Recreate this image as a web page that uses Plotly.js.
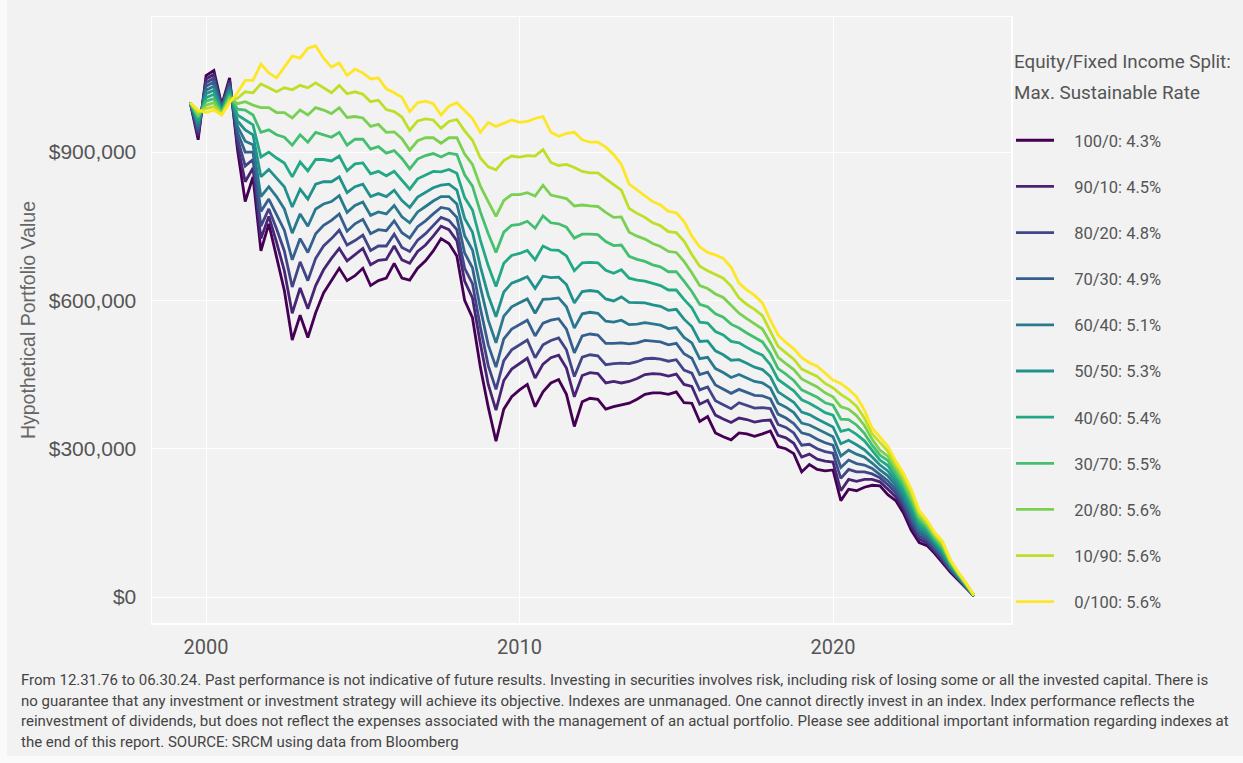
<!DOCTYPE html>
<html>
<head>
<meta charset="utf-8">
<script src="https://cdn.plot.ly/plotly-3.0.1.min.js"></script>
<style>
  html, body { margin: 0; padding: 0; background: #fafafa; }
  #chart { position: absolute; left: 7px; top: 0; width: 1236px; height: 756px; }
</style>
</head>
<body>
<div id="chart"></div>
<script>
// Quarterly observations, start mid-1999, 101 quarters (values in $ thousands)
const START_YEAR = 1999;
const START_MONTH = 7;        // July 1999 (mid-year)
const N_QUARTERS = 101;

const SERIES_NAMES = [
  '100/0: 4.3%', '90/10: 4.5%', '80/20: 4.8%', '70/30: 4.9%', '60/40: 5.1%', '50/50: 5.3%',
  '40/60: 5.4%', '30/70: 5.5%', '20/80: 5.6%', '10/90: 5.6%', '0/100: 5.6%'
];

const COLORS = ['#440154', '#482475', '#414487', '#355f8d', '#2a788e', '#21918c',
                '#22a884', '#44bf70', '#7ad151', '#bddf26', '#fde725'];

const S100_0 = [1000, 925, 1055, 1065, 995, 1050, 905, 800, 850, 700, 755, 690, 620, 520, 570, 525, 575, 615, 640, 665, 640,
  650, 665, 630, 640, 645, 675, 645, 641, 665, 680, 700, 725, 715, 690, 600, 565, 465, 384, 315, 380,
  405, 419, 430, 385, 415, 433, 440, 410, 345, 395, 402, 400, 380, 385, 388, 392, 400, 410, 413, 413,
  410, 415, 393, 392, 355, 365, 332, 324, 318, 332, 330, 325, 330, 336, 304, 300, 290, 253, 268, 258,
  255, 257, 195, 218, 215, 222, 226, 225, 207, 195, 170, 135, 110, 104, 88, 68, 50, 34, 18, 2];

const S90_10 = [1000, 932, 1048, 1057, 993, 1045, 915,
  840, 868, 725, 770, 718, 660, 574, 625, 583, 630, 662, 685, 705, 680,
  692, 705, 672, 681, 683, 710, 682, 675, 699, 712, 730, 750, 743, 721, 639, 605, 513, 430, 378, 438,
  461, 473, 483, 443, 471, 484, 489, 463, 405, 448, 454, 452, 433, 436, 433, 436, 442, 450, 452, 451,
  447, 451, 430, 426, 390, 398, 368, 360, 353, 362, 359, 354, 357, 358, 327, 322, 311, 283, 289, 279,
  275, 273, 215, 238, 234, 238, 238, 233, 217, 203, 178, 143, 117, 109, 92, 72, 53, 36, 19, 2];

const S80_20 = [1000, 940, 1040, 1050, 990, 1040, 928,
  872, 885, 750, 785, 745, 700, 627, 678, 640, 685, 710, 725, 742, 712,
  721, 732, 701, 710, 710, 734, 707, 699, 722, 735, 751, 768, 762, 743, 665, 634, 546, 468, 420, 478,
  500, 511, 520, 484, 510, 519, 524, 500, 446, 485, 490, 488, 470, 472, 473, 472, 476, 482, 483, 481,
  477, 480, 459, 453, 419, 425, 397, 389, 381, 393, 388, 382, 383, 381, 349, 343, 332, 307, 309, 300,
  294, 291, 240, 258, 253, 253, 249, 241, 227, 211, 186, 152, 123, 114, 96, 77, 55, 37, 20, 2];

const S70_30 = [1000, 946, 1033, 1042, 988, 1035, 940,
  900, 900, 780, 805, 775, 742, 682, 725, 697, 735, 752, 762, 775, 740,
  755, 764, 735, 743, 741, 761, 737, 726, 749, 761, 775, 788, 785, 768, 696, 666, 584, 510, 465, 522,
  542, 552, 560, 528, 554, 560, 563, 542, 494, 528, 532, 530, 513, 513, 514, 512, 514, 519, 517, 516,
  510, 513, 492, 483, 450, 455, 429, 421, 412, 420, 414, 408, 407, 401, 370, 362, 351, 332, 328, 319,
  312, 307, 262, 277, 270, 267, 260, 247, 235, 218, 193, 159, 129, 119, 100, 81, 57, 39, 21, 2];

const S60_40 = [1000, 952, 1025, 1033, 986, 1030, 952,
  922, 915, 810, 830, 810, 785, 736, 775, 750, 785, 795, 800, 812, 778,
  792, 799, 772, 779, 775, 792, 769, 757, 779, 790, 801, 810, 810, 795, 731, 702, 627, 560, 514, 568,
  587, 595, 603, 574, 602, 603, 605, 587, 544, 573, 576, 574, 558, 556, 560, 551, 552, 555, 552, 550,
  543, 545, 525, 514, 482, 485, 462, 454, 444, 450, 443, 436, 433, 423, 392, 384, 373, 352, 348, 340,
  332, 324, 285, 297, 289, 283, 271, 257, 245, 226, 201, 167, 135, 124, 104, 85, 60, 40, 22, 2];

const S50_50 = [1000, 958, 1018, 1025, 984, 1025, 963,
  945, 935, 850, 865, 848, 830, 789, 825, 805, 835, 840, 840, 850, 818,
  830, 835, 810, 816, 810, 823, 802, 788, 809, 819, 828, 833, 835, 823, 766, 738, 669, 610, 567, 617,
  635, 641, 648, 624, 649, 646, 647, 632, 595, 618, 620, 618, 603, 599, 607, 596, 595, 595, 591, 588,
  580, 582, 562, 547, 517, 518, 498, 490, 479, 480, 473, 465, 460, 446, 415, 405, 394, 374, 369, 360,
  352, 344, 310, 317, 308, 298, 283, 267, 255, 234, 209, 176, 142, 129, 109, 90, 62, 42, 23, 2];

const S40_60 = [1000, 964, 1010, 1017, 982, 1020, 975,
  965, 955, 890, 900, 888, 878, 850, 880, 862, 885, 885, 882, 892, 862,
  876, 878, 856, 861, 852, 861, 843, 825, 846, 854, 861, 860, 865, 857, 808, 783, 722, 670, 628, 675,
  691, 695, 701, 682, 710, 702, 701, 690, 660, 676, 677, 676, 661, 655, 662, 645, 641, 639, 634, 630,
  621, 621, 602, 585, 556, 554, 537, 530, 517, 514, 505, 496, 489, 470, 440, 429, 417, 399, 392, 383,
  373, 368, 335, 339, 329, 316, 296, 277, 266, 243, 218, 185, 149, 135, 113, 94, 65, 44, 24, 3];

const S30_70 = [1000, 970, 1003, 1008, 980, 1015, 987,
  985, 975, 940, 945, 935, 930, 914, 935, 920, 940, 935, 930, 940, 914,
  926, 926, 906, 911, 898, 903, 887, 866, 886, 893, 897, 890, 898, 895, 854, 831, 779, 735, 697, 738,
  752, 754, 760, 746, 771, 757, 755, 748, 726, 734, 734, 733, 719, 711, 712, 689, 683, 679, 672, 668,
  658, 658, 639, 618, 592, 587, 573, 566, 552, 544, 534, 525, 516, 493, 462, 451, 438, 419, 412, 404,
  393, 388, 360, 359, 348, 331, 307, 287, 276, 251, 226, 193, 156, 140, 117, 99, 68, 45, 25, 3];

const S20_80 = [1000, 975, 995, 1000, 978, 1010, 998,
  1002, 995, 990, 990, 980, 980, 969, 985, 975, 990, 985, 978, 990, 970,
  972, 969, 952, 956, 940, 941, 927, 904, 923, 929, 929, 918, 929, 929, 896, 875, 831, 800, 770, 802,
  814, 814, 818, 811, 833, 813, 809, 806, 791, 793, 791, 790, 778, 768, 769, 738, 730, 724, 715, 709,
  699, 697, 679, 656, 630, 624, 613, 606, 590, 574, 563, 553, 542, 515, 485, 472, 460, 441, 433, 425,
  413, 405, 385, 380, 367, 347, 319, 297, 285, 259, 234, 201, 162, 145, 122, 103, 70, 47, 26, 3];

const S10_90 = [1000, 980, 988, 992, 976, 1005, 1009,
  1022, 1020, 1038, 1030, 1022, 1030, 1026, 1035, 1030, 1040, 1030, 1020, 1035, 1018,
  1022, 1017, 1002, 1005, 986, 982, 971, 944, 963, 967, 965, 948, 962, 966, 943, 924, 888, 870, 864, 883,
  892, 890, 893, 892, 905, 879, 873, 875, 869, 861, 858, 858, 846, 834, 823, 786, 776, 768, 757, 751,
  739, 737, 720, 693, 669, 660, 652, 645, 629, 605, 592, 582, 569, 538, 507, 494, 481, 461, 453, 446,
  432, 423, 410, 400, 386, 362, 330, 312, 295, 267, 242, 210, 169, 150, 126, 108, 73, 48, 27, 3];

const S0_100 = [1000, 985, 980, 985, 975, 1000, 1020, 1045, 1045, 1078, 1060, 1050, 1072, 1094, 1090, 1110, 1115, 1090, 1072, 1080, 1055,
  1068, 1060, 1048, 1050, 1028, 1020, 1011, 982, 1000, 1003, 998, 975, 993, 1000, 985, 968, 940, 960, 952, 958,
  965, 960, 962, 968, 972, 940, 932, 938, 940, 925, 920, 920, 910, 895, 875, 835, 823, 812, 800, 793,
  780, 777, 760, 730, 708, 697, 692, 685, 667, 635, 621, 610, 595, 560, 530, 515, 502, 484, 474, 467,
  452, 439, 432, 420, 405, 378, 342, 324, 305, 275, 250, 218, 175, 155, 130, 112, 75, 50, 28, 3];

const SERIES = [S100_0, S90_10, S80_20, S70_30, S60_40, S50_50, S40_60, S30_70, S20_80, S10_90, S0_100];

const X_TICK_VALS = ['2000-01-01', '2010-01-01', '2020-01-01'];
const X_TICK_TEXT = ['2000', '2010', '2020'];
const Y_TICK_VALS = [0, 300000, 600000, 900000];
const Y_TICK_TEXT = ['$0', '$300,000', '$600,000', '$900,000'];

const LEGEND_TITLE = ['Equity/Fixed Income Split:', 'Max. Sustainable Rate'];
const FOOTNOTE_LINES = [
  'From 12.31.76 to 06.30.24. Past performance is not indicative of future results. Investing in securities involves risk, including risk of losing some or all the invested capital. There is',
  'no guarantee that any investment or investment strategy will achieve its objective. Indexes are unmanaged. One cannot directly invest in an index. Index performance reflects the',
  'reinvestment of dividends, but does not reflect the expenses associated with the management of an actual portfolio. Please see additional important information regarding indexes at',
  'the end of this report. SOURCE: SRCM using data from Bloomberg'
];

// quarter dates
const DATES = [];
for (let i = 0; i < N_QUARTERS; i++) {
  const m = START_YEAR * 12 + (START_MONTH - 1) + 3 * i;
  const y = Math.floor(m / 12), mo = (m % 12) + 1;
  DATES.push(y + '-' + String(mo).padStart(2, '0') + '-01');
}

const traces = SERIES.map((s, k) => ({
  type: 'scatter', mode: 'lines',
  x: DATES, y: s.map(v => v * 1000),
  name: '\u2002\u2009\u2009' + SERIES_NAMES[k], legendgroup: 'g' + k,
  line: { color: COLORS[k], width: 2.8 },
  hoverinfo: 'x+y+name'
}));

const plotW = 1236 - 145 - 232, plotH = 756 - 17 - 133;
const px = (pageX) => (pageX - 7 - 145) / plotW;
const py = (pageY) => 1 - (pageY - 17) / plotH;

const annotations = [];
LEGEND_TITLE.forEach((t, i) => annotations.push({
  text: t, xref: 'paper', yref: 'paper', x: px(1012), y: py([62, 93][i]),
  xanchor: 'left', yanchor: 'middle', showarrow: false, align: 'left',
  font: { family: 'Roboto, sans-serif', size: 18.8, color: '#555555' }
}));
FOOTNOTE_LINES.forEach((t, i) => annotations.push({
  text: t, xref: 'paper', yref: 'paper', x: px(19), y: py([680, 700.5, 721, 741.5][i]),
  xanchor: 'left', yanchor: 'middle', showarrow: false, align: 'left',
  font: { family: 'Roboto, sans-serif', size: 15.0, color: '#444444' }
}));

const layout = {
  width: 1236, height: 756,
  paper_bgcolor: '#f2f2f2', plot_bgcolor: '#f2f2f2',
  margin: { l: 145, r: 232, t: 17, b: 133, pad: 0 },
  showlegend: true,
  legend: {
    x: 1.0, xanchor: 'left', y: py(123), yanchor: 'top',
    bgcolor: 'rgba(0,0,0,0)', borderwidth: 0,
    font: { family: 'Roboto, sans-serif', size: 16.5, color: '#555555' },
    tracegroupgap: 21.7, itemwidth: 38, traceorder: 'grouped'
  },
  xaxis: {
    type: 'date', range: ['1998-04-11', '2025-09-05'],
    tickmode: 'array', tickvals: X_TICK_VALS, ticktext: X_TICK_TEXT,
    showgrid: true, gridcolor: '#ffffff', gridwidth: 1,
    showline: true, mirror: true, linecolor: '#ffffff', linewidth: 1.5,
    zeroline: false, ticks: 'outside', ticklen: 5, tickcolor: 'rgba(0,0,0,0)',
    tickfont: { family: 'Roboto, sans-serif', size: 20, color: '#555555' }
  },
  yaxis: {
    range: [-52600, 1173300],
    tickmode: 'array', tickvals: Y_TICK_VALS, ticktext: Y_TICK_TEXT,
    showgrid: true, gridcolor: '#ffffff', gridwidth: 1,
    showline: true, mirror: true, linecolor: '#ffffff', linewidth: 1.5,
    zeroline: false, ticks: '', ticklabelstandoff: 10,
    tickfont: { family: '"Liberation Sans", Arial, sans-serif', size: 21, color: '#555555' },
    title: { text: 'Hypothetical Portfolio Value', standoff: 8,
      font: { family: '"Liberation Sans", Arial, sans-serif', size: 19.5, color: '#666666' } }
  },
  annotations: annotations,
  hovermode: 'closest'
};

Plotly.newPlot('chart', traces, layout, { displayModeBar: false, staticPlot: true });
</script>
</body>
</html>
